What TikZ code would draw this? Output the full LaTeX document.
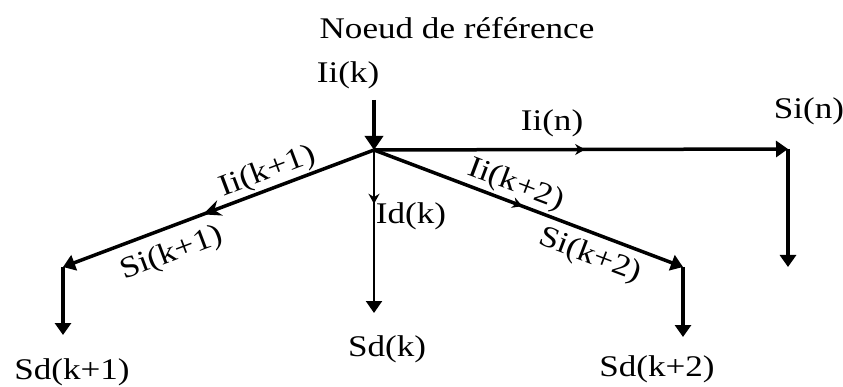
\documentclass[tikz,border=0pt]{standalone}
\usepackage{fontspec}
\setmainfont[FakeStretch=1.17]{Liberation Serif}
\usetikzlibrary{arrows.meta,decorations.markings}
\begin{document}
\begin{tikzpicture}[x=1pt,y=-1pt,
  lbl/.style={font=\fontsize{30}{34}\selectfont, inner sep=0pt},
  wire/.style={line width=3.5pt},
  tip/.style={-{Triangle[width=16pt,length=12pt]}},
  midarrow/.style={postaction={decorate},decoration={markings,
    mark=at position #1 with {\arrow{Stealth[width=11pt,length=10pt]}}}},
  bigmid/.style={postaction={decorate},decoration={markings,
    mark=at position #1 with {\arrow{Stealth[width=16pt,length=18pt]}}}}
]
\useasboundingbox[fill=white] (0,0) rectangle (843,387);
% points
\coordinate (top) at (374,100);
\coordinate (N) at (374,150);
\coordinate (R) at (788,149);
\coordinate (Rd) at (788,267);
\coordinate (L) at (63,267);
\coordinate (Ld) at (63,335);
\coordinate (C) at (374,313);
\coordinate (K) at (683,267);
\coordinate (Kd) at (683,337);
% connectors
\draw[line width=4.5pt,-{Triangle[width=18pt,length=14pt]}] (top) -- (N);
\draw[wire,tip,midarrow=0.51] (N) -- (R);
\draw[wire,tip] (R) -- (Rd);
\draw[line width=2.2pt,tip,midarrow=0.33] (N) -- (C);
\draw[wire,tip,bigmid=0.55] (N) -- (L);
\draw[wire,tip] (L) -- (Ld);
\draw[wire,tip,midarrow=0.48] (N) -- (K);
\draw[wire,tip] (K) -- (Kd);
% labels
\node[lbl] (noeud) at (457,28) {Noeud de référence};
\node[lbl] (iik) at (348,75) {Ii(k)};
\node[lbl] (iin) at (552,123) {Ii(n)};
\node[lbl] (sin) at (809,111) {Si(n)};
\node[lbl] (idk) at (411,216) {Id(k)};
\node[lbl] (sdk) at (387,349) {Sd(k)};
\node[lbl] (sdk1) at (72,372) {Sd(k+1)};
\node[lbl] (sdk2) at (657,369) {Sd(k+2)};
\node[lbl,rotate=20.7] (iik1) at (268,172) {Ii(k+1)};
\node[lbl,rotate=20.7] (sik1) at (172,254) {Si(k+1)};
\node[lbl,rotate=-20.7] (iik2) at (516,185) {Ii(k+2)};
\node[lbl,rotate=-20.7] (sik2) at (590,256) {Si(k+2)};
\end{tikzpicture}
\end{document}
